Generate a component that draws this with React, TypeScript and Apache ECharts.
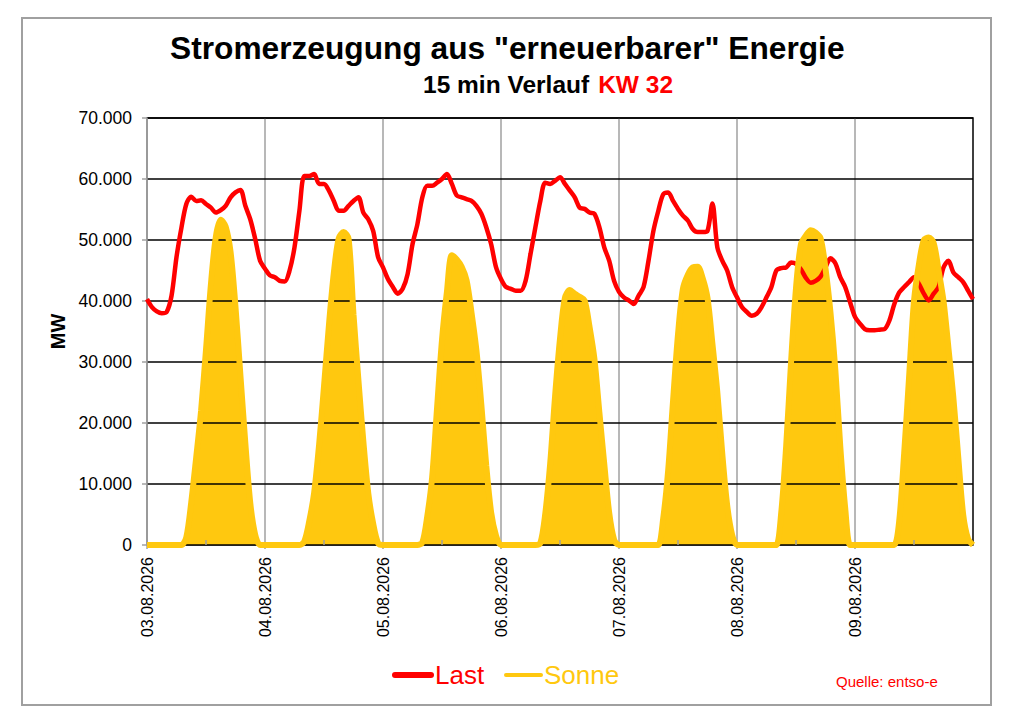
import * as echarts from 'echarts';
import { useEffect, useRef } from 'react';

// Tage der KW 32 (Achsenbeschriftung)
const days = ['03.08.2026', '04.08.2026', '05.08.2026', '06.08.2026', '07.08.2026', '08.08.2026', '09.08.2026'];
const endLabel = '10.08.2026 00:00';

const last0308 = [40300, 39000, 38300, 38000, 38200, 40900, 47200, 52000, 55900, 57100, 56400, 56500, 55900, 55300, 54500, 54900, 55600, 57000, 57800, 58200, 55600, 53400, 50200, 46600];
const last0408 = [45300, 44200, 43900, 43300, 43200, 45000, 48800, 54800, 60500, 60500, 60800, 59200, 59200, 58100, 56400, 54800, 54800, 55600, 56400, 57000, 54500, 53400, 51500, 47200];
const last0508 = [45500, 43600, 42300, 41200, 42000, 44400, 49300, 52600, 57000, 58900, 58900, 59400, 60000, 60800, 59200, 57300, 57000, 56700, 56400, 55600, 54300, 52100, 49300, 45500];
const last0608 = [43600, 42300, 42000, 41700, 41700, 43300, 47700, 52100, 56400, 59400, 59200, 59700, 60300, 59200, 58100, 57000, 55300, 55100, 54500, 54300, 52100, 48800, 46600, 43300];
const last0708 = [41500, 40600, 40100, 39500, 40900, 42300, 46600, 51500, 54800, 57500, 57800, 56400, 55100, 54000, 53200, 51800, 51300, 51300, 51500, 56000, 48800, 46600, 45000, 42300];
const last0808 = [40600, 39000, 38200, 37600, 37900, 39000, 40600, 42300, 45000, 45400, 45500, 46300, 46100, 45200, 43800, 43000, 43300, 44000, 45500, 47000, 46200, 43900, 42300, 39800];
const last0908 = [37400, 36300, 35400, 35200, 35200, 35300, 35400, 36800, 39500, 41400, 42300, 43100, 43900, 42800, 41200, 40100, 41200, 42300, 45500, 46600, 44700, 43900, 43100, 41700];
const lastEnd = 40300;

const sonne0308 = [0, 0, 0, 0, 0, 0, 0, 0, 1300, 7000, 14300, 22000, 32000, 42700, 50500, 53300, 52200, 48000, 39000, 27800, 16700, 6900, 1700, 0];
const sonne0408 = [0, 0, 0, 0, 0, 0, 0, 0, 600, 3900, 8600, 16400, 26000, 36000, 44600, 50300, 51300, 50200, 37800, 27000, 17000, 8500, 3500, 300];
const sonne0508 = [0, 0, 0, 0, 0, 0, 0, 0, 400, 4700, 11100, 22500, 33600, 41500, 47500, 46800, 45600, 43400, 38100, 31900, 23000, 13000, 5300, 1500];
const sonne0608 = [0, 0, 0, 0, 0, 0, 0, 0, 300, 5100, 13300, 24400, 33800, 40500, 41800, 41200, 40700, 40100, 35800, 30500, 21800, 13300, 5300, 900];
const sonne0708 = [0, 0, 0, 0, 0, 0, 0, 0, 0, 4400, 12200, 23700, 34500, 42000, 44300, 45500, 45600, 43800, 40500, 33000, 25000, 15000, 6500, 1700];
const sonne0808 = [0, 0, 0, 0, 0, 0, 0, 0, 0, 5300, 16200, 30000, 42100, 49300, 50700, 51600, 51200, 50300, 45300, 38200, 28700, 16200, 6100, 0];
const sonne0908 = [0, 0, 0, 0, 0, 0, 0, 0, 0, 4000, 15000, 27500, 40000, 46000, 50000, 50400, 49500, 45000, 40000, 32300, 24200, 14400, 5000, 1000];
const sonneEnd = 0;

const yTicks = { min: 0, max: 70000, interval: 10000 };

const RED = '#FF0000';
const YELLOW = '#FFC80F';
const GRAY = '#A0A0A0';
const FONT = '"Liberation Sans", Arial, sans-serif';

const categories = days
  .flatMap((d) => Array.from({ length: 24 }, (_, h) => `${d} ${String(h).padStart(2, '0')}:00`))
  .concat([endLabel]);
const last = [...last0308, ...last0408, ...last0508, ...last0608, ...last0708, ...last0808, ...last0908, lastEnd];
const sonne = [...sonne0308, ...sonne0408, ...sonne0508, ...sonne0608, ...sonne0708, ...sonne0808, ...sonne0908, sonneEnd];

const midnight = (i: number) => i % 24 === 0 && i < categories.length - 1;

export default function App() {
  const container = useRef<HTMLDivElement | null>(null);

  useEffect(() => {
    if (!container.current) return;
    const chart = echarts.init(container.current, null, { renderer: 'svg' });
    chart.setOption({
      animation: false,
      backgroundColor: '#fff',
      textStyle: { fontFamily: FONT },
      title: [
        {
          text: 'Stromerzeugung aus "erneuerbarer" Energie',
          left: 170,
          top: 32,
          padding: 0,
          textStyle: { fontSize: 31.7, fontWeight: 'bold', color: '#000', fontFamily: FONT },
        },
        {
          text: '{a|15 min Verlauf} {b|KW 32}',
          left: 423,
          top: 72,
          padding: 0,
          textStyle: {
            rich: {
              a: { fontSize: 24.5, fontWeight: 'bold', color: '#000', fontFamily: FONT },
              b: { fontSize: 24.5, fontWeight: 'bold', color: RED, fontFamily: FONT, padding: [0, 0, 0, 4] },
            },
          },
        },
      ],
      grid: {
        left: 147,
        right: 51,
        top: 118,
        bottom: 179,
        show: true,
        borderColor: '#000',
        borderWidth: 1.5,
      },
      xAxis: [
        {
          type: 'category',
          data: categories,
          boundaryGap: false,
          axisLine: { lineStyle: { color: GRAY, width: 1.5 } },
          axisTick: { interval: midnight, length: 4, lineStyle: { color: GRAY, width: 1.5 } },
          axisLabel: {
            interval: midnight,
            rotate: 90,
            margin: 12,
            fontSize: 16,
            color: '#000',
            formatter: (v: string) => v.split(' ')[0],
          },
          splitLine: { show: true, interval: midnight, lineStyle: { color: GRAY, width: 1.5 } },
        },
        {
          type: 'category',
          data: categories,
          boundaryGap: false,
          position: 'bottom',
          z: 5,
          axisLine: { show: false },
          axisTick: { interval: (i: number) => i % 24 === 12, inside: true, length: 5, lineStyle: { color: GRAY, width: 1.5 } },
          axisLabel: { show: false },
          splitLine: { show: false },
        },
      ],
      yAxis: {
        type: 'value',
        ...yTicks,
        z: 2,
        name: 'MW',
        nameLocation: 'middle',
        nameRotate: 90,
        nameGap: 78,
        nameTextStyle: { fontSize: 20, fontWeight: 'bold', color: '#000', fontFamily: FONT },
        axisLine: { show: true, lineStyle: { color: GRAY, width: 1.5 } },
        axisTick: { show: true, length: 5, lineStyle: { color: GRAY, width: 1.5 } },
        axisLabel: {
          fontSize: 17.5,
          color: '#000',
          margin: 15,
          formatter: (v: number) => (v === 0 ? '0' : `${v / 1000}.000`),
        },
        splitLine: { lineStyle: { color: '#000', width: 1.5 } },
      },
      series: [
        {
          name: 'Sonne',
          type: 'line',
          data: sonne,
          smooth: 0.3,
          symbol: 'none',
          z: 1,
          lineStyle: { width: 0, opacity: 0 },
          areaStyle: { color: YELLOW, opacity: 1 },
        },
        {
          name: 'Last',
          type: 'line',
          data: last,
          smooth: 0.3,
          symbol: 'none',
          z: 3,
          lineStyle: { color: RED, width: 4.5 },
        },
        {
          name: 'Sonne',
          type: 'line',
          data: sonne,
          smooth: 0.3,
          symbol: 'none',
          z: 4,
          lineStyle: { color: YELLOW, width: 6 },
        },
      ],
      graphic: [
        {
          type: 'rect',
          z: -1,
          shape: { x: 22, y: 18, width: 969, height: 687 },
          style: { fill: 'none', stroke: GRAY, lineWidth: 2 },
        },
        {
          type: 'line',
          shape: { x1: 395, y1: 675, x2: 431, y2: 675 },
          style: { stroke: RED, lineWidth: 6, lineCap: 'round' },
        },
        {
          type: 'text',
          x: 435,
          y: 675,
          style: { text: 'Last', fill: RED, fontSize: 26, fontFamily: FONT, verticalAlign: 'middle' },
        },
        {
          type: 'line',
          shape: { x1: 506, y1: 675, x2: 541, y2: 675 },
          style: { stroke: YELLOW, lineWidth: 4, lineCap: 'round' },
        },
        {
          type: 'text',
          x: 544,
          y: 675,
          style: { text: 'Sonne', fill: YELLOW, fontSize: 26, fontFamily: FONT, verticalAlign: 'middle' },
        },
        {
          type: 'text',
          x: 836,
          y: 681,
          style: { text: 'Quelle: entso-e', fill: RED, fontSize: 15, fontFamily: FONT, verticalAlign: 'middle' },
        },
      ],
    } as echarts.EChartsOption);
    return () => chart.dispose();
  }, []);

  return (
    <div
      ref={container}
      style={{ position: 'absolute', left: 0, top: 0, width: 1024, height: 724, background: '#fff' }}
    />
  );
}
